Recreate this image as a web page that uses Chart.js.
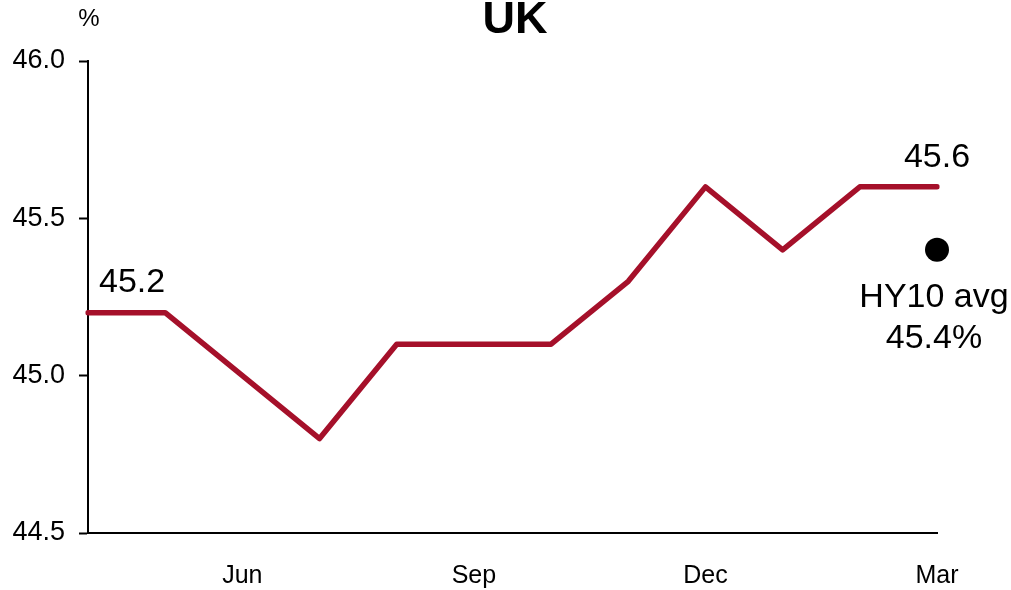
<!DOCTYPE html>
<html>
<head>
<meta charset="utf-8">
<style>
  html, body { margin: 0; padding: 0; background: #ffffff; }
  #wrap { width: 1011px; height: 590px; position: relative; }
</style>
<script src="https://cdn.jsdelivr.net/npm/chart.js@4/dist/chart.umd.min.js"></script>
</head>
<body>
<div id="wrap"><canvas id="c" width="1011" height="590"></canvas></div>
<script>
// Monthly series, April to March
const months = ['Apr', 'May', 'Jun', 'Jul', 'Aug', 'Sep', 'Oct', 'Nov', 'Dec', 'Jan', 'Feb', 'Mar'];
const ukValues = [45.2, 45.2, 45.0, 44.8, 45.1, 45.1, 45.1, 45.3, 45.6, 45.4, 45.6, 45.6];
const shownMonths = ['Jun', 'Sep', 'Dec', 'Mar'];
const yTicks = [44.5, 45.0, 45.5, 46.0];
const hy10Avg = 45.4;
const titleText = 'UK';
const unitText = '%';

const FONT = "'Liberation Sans', Arial, sans-serif";
const LINE_COLOR = '#a5102a';

// Average marker sits on the last month only
const avgData = months.map((m, i) => (i === months.length - 1 ? hy10Avg : null));

const annotations = {
  id: 'annotations',
  afterDraw(chart) {
    const ctx = chart.ctx;
    const xs = chart.scales.x, ys = chart.scales.y;
    ctx.save();
    ctx.fillStyle = '#000000';

    // Title
    ctx.font = 'bold 45px ' + FONT;
    ctx.textAlign = 'center';
    ctx.textBaseline = 'alphabetic';
    ctx.fillText(titleText, 515, 33);

    // Unit label above the y axis
    ctx.font = '24px ' + FONT;
    ctx.fillText(unitText, 89, 26);

    // First and last value labels
    ctx.font = '34px ' + FONT;
    const first = 0, last = ukValues.length - 1;
    ctx.textAlign = 'left';
    ctx.fillText(ukValues[first].toFixed(1), xs.getPixelForValue(first) + 11, ys.getPixelForValue(ukValues[first]) - 21);
    ctx.textAlign = 'center';
    ctx.fillText(ukValues[last].toFixed(1), xs.getPixelForValue(last), ys.getPixelForValue(ukValues[last]) - 20);

    // Average label under the marker
    const ax = xs.getPixelForValue(last) - 3;
    const ay = ys.getPixelForValue(hy10Avg);
    ctx.fillText('HY10 avg', ax, ay + 57);
    ctx.fillText(hy10Avg.toFixed(1) + '%', ax, ay + 98);
    ctx.restore();
  }
};

new Chart(document.getElementById('c'), {
  type: 'line',
  data: {
    labels: months,
    datasets: [
      {
        data: ukValues,
        borderColor: LINE_COLOR,
        backgroundColor: LINE_COLOR,
        borderWidth: 5.5,
        borderCapStyle: 'round',
        borderJoinStyle: 'round',
        pointRadius: 0,
        tension: 0,
        fill: false
      },
      {
        data: avgData,
        showLine: false,
        pointRadius: 12,
        pointBackgroundColor: '#000000',
        pointBorderColor: '#000000',
        pointBorderWidth: 0
      }
    ]
  },
  options: {
    responsive: false,
    animation: false,
    devicePixelRatio: 1,
    layout: { padding: { top: 61, right: 74, left: 0, bottom: 0 } },
    plugins: { legend: { display: false }, tooltip: { enabled: false }, title: { display: false } },
    scales: {
      x: {
        type: 'category',
        offset: false,
        afterFit(scale) { scale.height = 57; },
        grid: { display: true, drawOnChartArea: false, drawTicks: false, color: 'rgba(0,0,0,0)' },
        border: { display: true, color: '#000000', width: 2 },
        ticks: {
          autoSkip: false,
          maxRotation: 0,
          padding: 28,
          color: '#000000',
          font: { family: FONT, size: 25 },
          callback(value) {
            const m = months[value];
            return shownMonths.includes(m) ? m : '';
          }
        }
      },
      y: {
        min: yTicks[0],
        max: yTicks[yTicks.length - 1],
        afterFit(scale) { scale.width = 88; },
        afterBuildTicks(scale) { scale.ticks = yTicks.map(v => ({ value: v })); },
        grid: { display: true, drawOnChartArea: false, drawTicks: true, tickLength: 9, tickWidth: 2, color: '#000000' },
        border: { display: true, color: '#000000', width: 2 },
        ticks: {
          padding: 14,
          color: '#000000',
          font: { family: FONT, size: 27 },
          callback(value) { return Number(value).toFixed(1); }
        }
      }
    }
  },
  plugins: [annotations]
});
</script>
</body>
</html>
